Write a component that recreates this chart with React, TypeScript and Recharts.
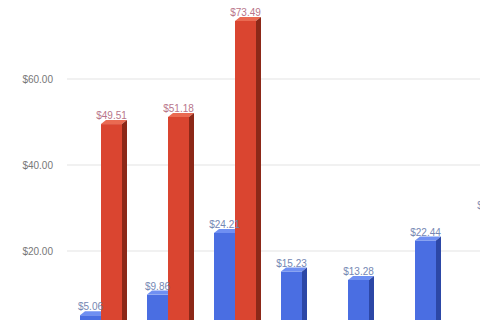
import React from "react";
import { BarChart, Bar, XAxis, YAxis, CartesianGrid, LabelList } from "recharts";

const categories = ["A", "B", "C", "D", "E", "F", "G"];
const blueValues = [5.06, 9.86, 24.21, 15.23, 13.28, 22.44, 28.6];
const redValues: (number | null)[] = [49.51, 51.18, 73.49, null, null, null, null];
const yTicks = [20, 40, 60];

const data = categories.map((c, i) => ({ name: c, blue: blueValues[i], red: redValues[i] }));

const fmt = (v: any) => (v == null ? "" : `$${Number(v).toFixed(2)}`);

const make3D = (front: string, top: string, side: string) => (props: any) => {
  const { x, y, width, height } = props;
  if (height == null || height <= 0 || x == null) return <g />;
  const dx = 5;
  const dy = 4;
  return (
    <g>
      <rect x={x} y={y} width={width} height={height} fill={front} />
      <polygon
        points={`${x},${y} ${x + dx},${y - dy} ${x + width + dx},${y - dy} ${x + width},${y}`}
        fill={top}
      />
      <polygon
        points={`${x + width},${y} ${x + width + dx},${y - dy} ${x + width + dx},${y + height - dy} ${x + width},${y + height}`}
        fill={side}
      />
    </g>
  );
};

const BlueShape = make3D("#4a6ee2", "#6f8ff2", "#2c47a6");
const RedShape = make3D("#da4530", "#ea6a52", "#8c2818");

export default function App() {
  return (
    <div
      style={{
        position: "absolute",
        left: 0,
        top: 0,
        width: 480,
        height: 320,
        overflow: "hidden",
        background: "#fff",
      }}
    >
      <div style={{ position: "absolute", left: 0, top: -27 }}>
        <BarChart
          width={560}
          height={374}
          data={data}
          margin={{ top: 20, right: 24, bottom: 10, left: 0 }}
          barGap={0}
          barCategoryGap={12}
        >
          <CartesianGrid vertical={false} stroke="#e3e3e3" />
          <XAxis dataKey="name" hide />
          <YAxis
            width={67}
            domain={[0, 80]}
            ticks={yTicks}
            tickFormatter={fmt}
            axisLine={false}
            tickLine={false}
            tickSize={0}
            tickMargin={14}
            tick={{ fill: "#777", fontSize: 10, fontFamily: "Liberation Sans, Arial, sans-serif" }}
          />
          <Bar dataKey="blue" barSize={21} shape={BlueShape} isAnimationActive={false}>
            <LabelList
              dataKey="blue"
              position="top"
              offset={5}
              formatter={fmt}
              fill="#7587b3"
              fontSize={10}
              fontFamily="Liberation Sans, Arial, sans-serif"
            />
          </Bar>
          <Bar dataKey="red" barSize={21} shape={RedShape} isAnimationActive={false}>
            <LabelList
              dataKey="red"
              position="top"
              offset={5}
              formatter={fmt}
              fill="#b8758a"
              fontSize={10}
              fontFamily="Liberation Sans, Arial, sans-serif"
            />
          </Bar>
        </BarChart>
      </div>
    </div>
  );
}
